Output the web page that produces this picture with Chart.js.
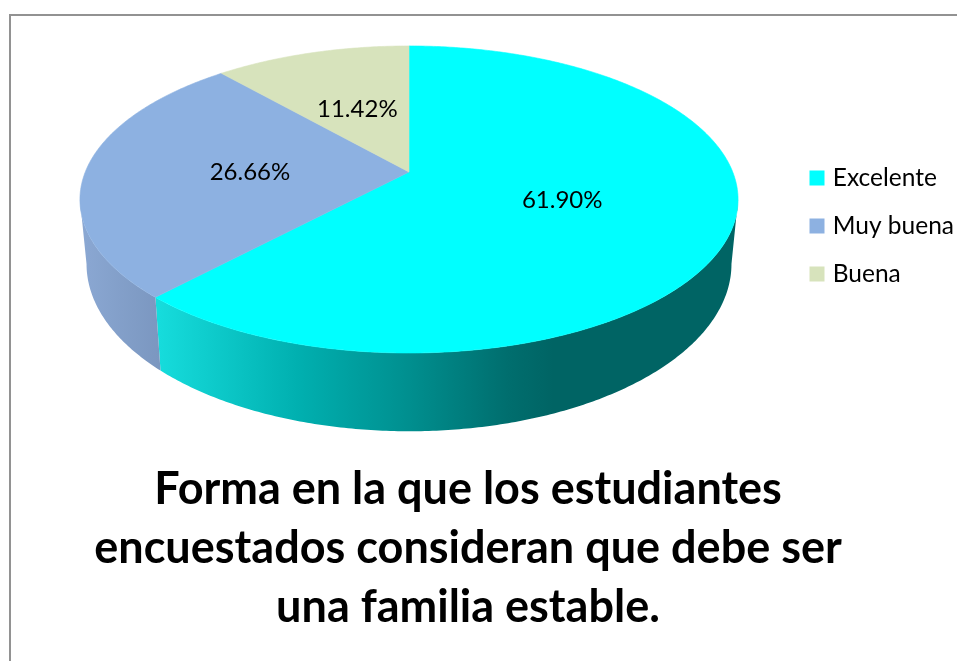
<!DOCTYPE html>
<html><head><meta charset="utf-8">
<style>
html,body{margin:0;padding:0;background:#fff;overflow:hidden;width:957px;height:661px}
#frame{position:absolute;left:9px;top:14px;width:960px;height:660px;border:2px solid #929292}
canvas{position:absolute;left:0;top:0}
</style>
<script src="https://cdn.jsdelivr.net/npm/chart.js@4"></script>
</head><body>
<div id="frame"></div>
<canvas id="c" width="957" height="661"></canvas>
<script>
const categories = ['Excelente', 'Muy buena', 'Buena'];
const values = [61.90, 26.66, 11.42];
const colors = ['#00ffff', '#8db1e1', '#d7e3bc'];
const titleLines = ['Forma en la que los estudiantes', 'encuestados consideran que debe ser', 'una familia estable.'];
const sideStops = [
  [[0.12,'#16dcdc'],[0.33,'#00b0b0'],[0.5,'#008f8f'],[0.65,'#006e6e'],[0.72,'#006464'],[1,'#006464']],
  [[0,'#8ba8d3'],[0.12,'#7b97c0']],
  [[0,'#a8b48f'],[1,'#a8b48f']]
];
const FONT = 'Lato, Carlito, Calibri, sans-serif';
const K = 0.179;                 // perspective strength
const TOP = {ax: 2.049, ay: 0.9405, dy: 0};
const BASE = {ax: 2.008, ay: 1.025, dy: 62};

function project(arc, plane, a, f) {
  const R = arc.outerRadius, u = Math.cos(a) * f, v = Math.sin(a) * f, d = 1 - K * v;
  return [arc.x + R * plane.ax * u / d, arc.y + plane.dy + R * plane.ay * v / d];
}
function arcPoints(arc, plane, from, to) {
  const n = Math.max(2, Math.ceil(Math.abs(to - from) / 0.01)), pts = [];
  for (let i = 0; i <= n; i++) pts.push(project(arc, plane, from + (to - from) * i / n, 1));
  return pts;
}
function poly(ctx, pts) {
  ctx.beginPath();
  pts.forEach((p, i) => i ? ctx.lineTo(p[0], p[1]) : ctx.moveTo(p[0], p[1]));
  ctx.closePath();
}

const perspectivePie = {
  id: 'perspectivePie',
  afterLayout(chart) {
    const l = chart.legend, t = chart.titleBlock;
    const lw = l.width, lh = l.height;
    l.left = 790; l.right = l.left + lw; l.top = 226 - lh / 2; l.bottom = l.top + lh;
    t.left = 0; t.right = 936; t.top = 444; t.bottom = 661;
    chart.chartArea = {left: 49, right: 769, top: 14, bottom: 330, width: 720, height: 316};
  },
  beforeDatasetsDraw(chart) {
    const ctx = chart.ctx, arcs = chart.getDatasetMeta(0).data;
    ctx.save();
    // extruded rim: only the part of each slice between the two silhouette angles is visible
    const visFrom = Math.asin(K), visTo = Math.PI - visFrom;
    arcs.forEach((arc, i) => {
      const from = Math.max(arc.startAngle, visFrom), to = Math.min(arc.endAngle, visTo);
      if (from >= to) return;
      const left = arc.x - arc.outerRadius * TOP.ax * 1.016, w = 2 * arc.outerRadius * TOP.ax * 1.016;
      const g = ctx.createLinearGradient(left, 0, left + w, 0);
      sideStops[i].forEach(s => g.addColorStop(s[0], s[1]));
      poly(ctx, arcPoints(arc, TOP, from, to).concat(arcPoints(arc, BASE, to, from)));
      ctx.fillStyle = g; ctx.fill();
    });
    // top face
    arcs.forEach((arc, i) => {
      const pts = arcPoints(arc, TOP, arc.startAngle, arc.endAngle);
      pts.push([arc.x, arc.y]);
      poly(ctx, pts);
      ctx.fillStyle = colors[i]; ctx.strokeStyle = colors[i]; ctx.lineWidth = 0.6;
      ctx.fill(); ctx.stroke();
    });
    // value labels
    ctx.fillStyle = '#000'; ctx.font = '24px ' + FONT;
    ctx.textAlign = 'center'; ctx.textBaseline = 'middle';
    arcs.forEach((arc, i) => {
      const p = project(arc, TOP, (arc.startAngle + arc.endAngle) / 2, 0.492);
      ctx.fillText(values[i].toFixed(2) + '%', p[0], p[1] + 1);
    });
    ctx.restore();
    return false;
  }
};

new Chart(document.getElementById('c'), {
  type: 'pie',
  data: {labels: categories, datasets: [{data: values, backgroundColor: colors, borderWidth: 0}]},
  options: {
    responsive: false, animation: false,
    plugins: {
      tooltip: {enabled: false},
      title: {
        display: true, position: 'bottom', text: titleLines, color: '#000',
        font: {family: FONT, size: 45, weight: 'bold', lineHeight: 1.311},
        padding: {top: 16, bottom: 10}
      },
      legend: {
        position: 'right',
        labels: {
          color: '#000', font: {family: FONT, size: 24.5}, boxWidth: 7, boxHeight: 7, padding: 23.5,
          generateLabels: () => categories.map((c, i) => ({
            text: c, fillStyle: colors[i], strokeStyle: colors[i], lineWidth: 8, index: i
          }))
        }
      }
    }
  },
  plugins: [perspectivePie]
});
</script>
</body></html>
